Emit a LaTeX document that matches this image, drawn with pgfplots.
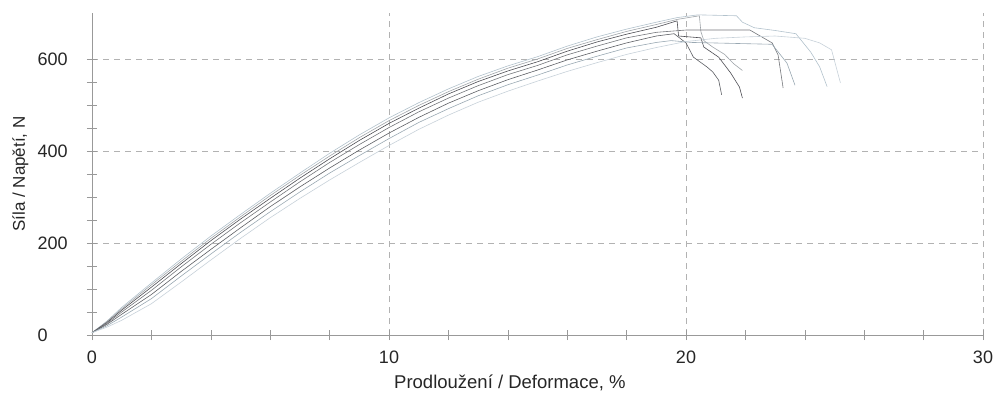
\documentclass[border=0pt]{standalone}
\usepackage{pgfplots}
\pgfplotsset{compat=1.18}
\usepackage{fontspec}
\setmainfont{Liberation Sans}
\definecolor{cA}{rgb}{0.70,0.76,0.80}
\definecolor{cG}{rgb}{0.62,0.64,0.66}
\definecolor{cB}{rgb}{0.30,0.30,0.32}
\definecolor{cE}{rgb}{0.45,0.46,0.48}
\definecolor{cC}{rgb}{0.36,0.37,0.39}
\definecolor{cF}{rgb}{0.60,0.66,0.70}
\definecolor{cH}{rgb}{0.78,0.82,0.85}
\begin{document}
\begin{tikzpicture}
\begin{axis}[
  at={(92pt,57pt)}, anchor=south west,
  scale only axis, width=891pt, height=322pt,
  xmin=0, xmax=30, ymin=0, ymax=700,
  axis x line=bottom, axis y line=left,
  axis line style={-, draw=black!40, line width=0.6pt},
  xtick={0,10,20,30}, ytick={0,200,400,600},
  minor x tick num=4, minor y tick num=3,
  tick align=center,
  major tick length=10pt, minor tick length=10pt,
  tick style={draw=black!40, line width=0.5pt},
  grid=major,
  major grid style={draw=black!30, dash pattern=on 6pt off 5pt, line width=0.5pt},
  /pgf/number format/assume math mode=true,
  tick label style={font=\fontsize{18}{20}\selectfont, text=black!85},
  xticklabel style={yshift=-7pt},
  yticklabel style={anchor=west, xshift=-53pt},
  xlabel={Prodloužení / Deformace, \%},
  ylabel={Síla / Napětí, N},
  label style={font=\fontsize{18.5}{21}\selectfont, text=black!85},
  xlabel style={at={(axis description cs:0.469,0)}, anchor=north, yshift=-36pt},
  ylabel style={font=\fontsize{17}{20}\selectfont, at={(axis description cs:0,0.5)}, anchor=south, yshift=60pt},
  every axis plot/.append style={line width=0.6pt, line join=round},
  clip=false,
]
% a (top, light)
\addplot[cA] coordinates {(0,5)(0.5,30)(1,60)(2,113)(3,165)(4,215)(5,262)(6,308)(7,352)(8,395)(9,435)(10,472)(11,505)(12,535)(13,562)(14,585)(15,605)(16,628)(17,648)(18,665)(19,680)(19.7,690)(20.4,696)(21.7,694)(21.9,680)(22.3,668)(23.0,662)(23.7,655)(24.2,615)(24.5,583)(24.75,540)};
% g
\addplot[cG] coordinates {(0,5)(0.5,29)(1,57)(2,109)(3,160)(4,210)(5,257)(6,303)(7,347)(8,389)(9,429)(10,466)(11,499)(12,529)(13,556)(14,580)(15,600)(16,623)(17,642)(18,660)(19,675)(19.7,686)(20.45,694)(20.5,660)(20.6,640)(20.9,626)(21.3,610)(21.6,590)(21.9,575)};
% b (dark)
\addplot[cB] coordinates {(0,5)(0.5,27)(1,54)(2,104)(3,155)(4,205)(5,252)(6,297)(7,341)(8,383)(9,423)(10,460)(11,493)(12,524)(13,551)(14,574)(15,594)(16,617)(17,637)(18,654)(19,669)(19.7,683)(19.75,650)(20.5,646)(20.6,626)(21.1,604)(21.5,570)(21.8,539)(21.9,515)};
% e
\addplot[cE] coordinates {(0,5)(0.5,25)(1,50)(2,97)(3,148)(4,197)(5,244)(6,289)(7,333)(8,375)(9,414)(10,451)(11,485)(12,515)(13,542)(14,566)(15,586)(16,609)(17,628)(18,646)(19,658)(20,663)(22.15,663)(22.9,635)(23.1,609)(23.27,537)};
% c (dark)
\addplot[cC] coordinates {(0,5)(0.5,23)(1,45)(2,88)(3,138)(4,186)(5,233)(6,279)(7,322)(8,363)(9,402)(10,439)(11,473)(12,504)(13,531)(14,555)(15,576)(16,598)(17,617)(18,635)(19,650)(19.6,655)(20.0,635)(20.25,604)(20.7,583)(20.9,572)(21.1,554)(21.2,522)};
% f
\addplot[cF] coordinates {(0,5)(0.5,20)(1,39)(2,79)(3,128)(4,176)(5,223)(6,268)(7,311)(8,352)(9,390)(10,427)(11,462)(12,492)(13,520)(14,544)(15,565)(16,587)(17,606)(18,624)(19,636)(19.5,640)(20.2,636)(22.9,632)(23.4,591)(23.67,543)};
% h (bottom, light)
\addplot[cH] coordinates {(0,5)(0.5,17)(1,32)(2,68)(3,115)(4,163)(5,210)(6,255)(7,297)(8,337)(9,375)(10,412)(11,447)(12,478)(13,506)(14,530)(15,552)(16,573)(17,592)(18,610)(19,625)(20,638)(21,645)(22,648)(23,650)(24,645)(24.5,635)(24.9,620)(25.2,548)};
\end{axis}
\pgfresetboundingbox
\path (0,0) rectangle (995pt,392pt);
\end{tikzpicture}
\end{document}
